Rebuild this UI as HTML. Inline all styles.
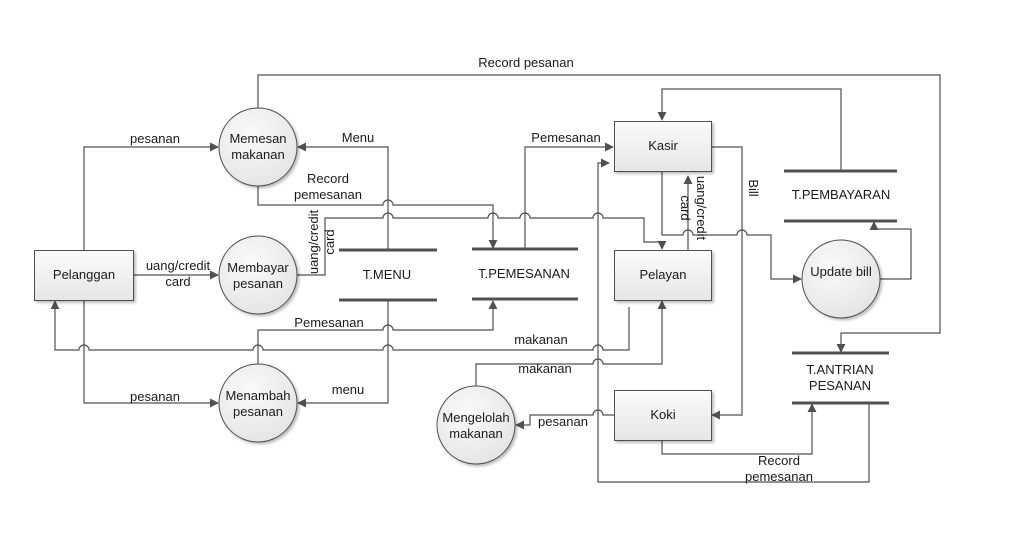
<!DOCTYPE html>
<html><head><meta charset="utf-8"><style>
html,body{margin:0;padding:0;background:#fff;}
svg{display:block;}
text{font-family:"Liberation Sans",Arial,sans-serif;font-size:13px;fill:#1a1a1a;}
</style></head><body>
<svg width="1011" height="557" viewBox="0 0 1011 557" xmlns="http://www.w3.org/2000/svg">
<defs>
<marker id="a" viewBox="0 0 10 10" refX="9" refY="5" markerWidth="9" markerHeight="9" markerUnits="userSpaceOnUse" orient="auto"><path d="M0 0L10 5L0 10z" fill="#505050"/></marker>
<linearGradient id="g" x1="0" y1="0" x2="0" y2="1"><stop offset="0" stop-color="#fafafa"/><stop offset="1" stop-color="#e6e6e6"/></linearGradient>
<radialGradient id="rg" cx="0.4" cy="0.35" r="0.7"><stop offset="0" stop-color="#fafafa"/><stop offset="1" stop-color="#e4e4e4"/></radialGradient>
<filter id="s" x="-20%" y="-20%" width="150%" height="150%"><feDropShadow dx="2" dy="2" stdDeviation="1.2" flood-color="#000" flood-opacity="0.25"/></filter>
</defs>
<g fill="none" stroke="#505050" stroke-width="1.2">
<path d="M258 108V75H940V333H841V352" marker-end="url(#a)"/>
<path d="M84 250V147H218" marker-end="url(#a)"/>
<path d="M388 250V147H298" marker-end="url(#a)"/>
<path d="M258 186V205H383A5 5 0 0 1 393 205H493V248" marker-end="url(#a)"/>
<path d="M297 275H325V218H383A5 5 0 0 1 393 218H488A5 5 0 0 1 498 218H520A5 5 0 0 1 530 218H593A5 5 0 0 1 603 218H644V242H662V249" marker-end="url(#a)"/>
<path d="M133 275H218" marker-end="url(#a)"/>
<path d="M525 249V147H613" marker-end="url(#a)"/>
<path d="M258 364V330H383A5 5 0 0 1 393 330H493V301" marker-end="url(#a)"/>
<path d="M629 307V350H603A5 5 0 0 0 593 350H393A5 5 0 0 0 383 350H263A5 5 0 0 0 253 350H89A5 5 0 0 0 79 350H55V301" marker-end="url(#a)"/>
<path d="M84 300V403H218" marker-end="url(#a)"/>
<path d="M388 300V403H298" marker-end="url(#a)"/>
<path d="M476 386V364H593A5 5 0 0 1 603 364H662V301" marker-end="url(#a)"/>
<path d="M614 415H603A5 5 0 0 0 593 415H530V425H516" marker-end="url(#a)"/>
<path d="M711 147H742V415H712" marker-end="url(#a)"/>
<path d="M662 171V235H683A5 5 0 0 1 693 235H737A5 5 0 0 1 747 235H771V279H801" marker-end="url(#a)"/>
<path d="M688 250V176" marker-end="url(#a)"/>
<path d="M880 279H911V229H874V222" marker-end="url(#a)"/>
<path d="M841 171V89H662V120" marker-end="url(#a)"/>
<path d="M662 440V454H812V404" marker-end="url(#a)"/>
<path d="M869 403V482H598V163H609" marker-end="url(#a)"/>
</g>
<g stroke="#505050" stroke-width="3">
<path d="M339 250H437M339 300H437"/>
<path d="M472 249H578M472 299H578"/>
<path d="M784 171H897M784 221H897"/>
<path d="M792 353H889M792 403H889"/>
</g>
<g fill="url(#g)" stroke="#505050" stroke-width="1" filter="url(#s)">
<rect x="34.5" y="250.5" width="99" height="50"/>
<rect x="614.5" y="121.5" width="97" height="50"/>
<rect x="614.5" y="250.5" width="97" height="50"/>
<rect x="614.5" y="390.5" width="97" height="50"/>
</g>
<g fill="url(#rg)" stroke="#505050" stroke-width="1" filter="url(#s)">
<circle cx="258" cy="147" r="39"/>
<circle cx="258" cy="275" r="39"/>
<circle cx="258" cy="403" r="39"/>
<circle cx="476" cy="425" r="39"/>
<circle cx="841" cy="279" r="39"/>
</g>
<g text-anchor="middle">
<text x="84" y="279">Pelanggan</text>
<text x="663" y="150">Kasir</text>
<text x="663" y="279">Pelayan</text>
<text x="663" y="419">Koki</text>
<text x="258" y="143">Memesan</text><text x="258" y="159">makanan</text>
<text x="258" y="272">Membayar</text><text x="258" y="288">pesanan</text>
<text x="258" y="400">Menambah</text><text x="258" y="416">pesanan</text>
<text x="476" y="422">Mengelolah</text><text x="476" y="438">makanan</text>
<text x="841" y="276">Update bill</text>
<text x="387" y="279">T.MENU</text>
<text x="524" y="278">T.PEMESANAN</text>
<text x="841" y="199">T.PEMBAYARAN</text>
<text x="840" y="374">T.ANTRIAN</text><text x="840" y="390">PESANAN</text>
<text x="526" y="67">Record pesanan</text>
<text x="155" y="143">pesanan</text>
<text x="358" y="142">Menu</text>
<text x="328" y="183">Record</text><text x="328" y="199">pemesanan</text>
<text x="178" y="270">uang/credit</text><text x="178" y="286">card</text>
<text x="566" y="142">Pemesanan</text>
<text x="329" y="327">Pemesanan</text>
<text x="541" y="344">makanan</text>
<text x="545" y="373">makanan</text>
<text x="155" y="401">pesanan</text>
<text x="348" y="394">menu</text>
<text x="563" y="426">pesanan</text>
<text x="779" y="465">Record</text><text x="779" y="481">pemesanan</text>
<text transform="translate(318,242) rotate(-90)">uang/credit</text>
<text transform="translate(334,242) rotate(-90)">card</text>
<text transform="translate(697,208) rotate(90)">uang/credit</text>
<text transform="translate(681,208) rotate(90)">card</text>
<text transform="translate(749,188) rotate(90)">Bill</text>
</g>
</svg>
</body></html>
